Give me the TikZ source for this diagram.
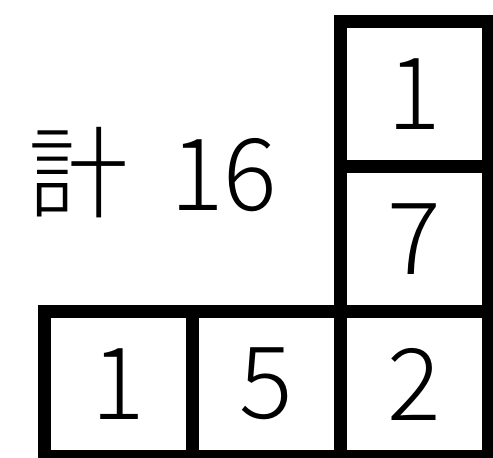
\documentclass[tikz,border=0pt]{standalone}
\usepackage{fontspec}
\setmainfont{Noto Sans CJK JP Light}
\usetikzlibrary{positioning}

\tikzset{
    cell/.style={draw, line width=13pt, minimum width=148pt, minimum height=145pt,
        inner sep=0pt, outer sep=0pt, font=\fontsize{100}{100}\selectfont},
}

\begin{document}
\begin{tikzpicture}[x=1pt, y=-1pt]
    \useasboundingbox (0,0) rectangle (493,458);

    % Corner cell, then the row and the column
    \node[cell] (two) at (414.5,384) {2};
    \node[cell, left=0pt of two] (five) {5};
    \node[cell, left=0pt of five] (oneb) {1};
    \node[cell, above=0pt of two] (seven) {7};
    \node[cell, above=0pt of seven] (onet) {1};

    % Total
    \node[font=\fontsize{100}{100}\selectfont] (total) at (153,173) {計\hspace{42pt}16};
\end{tikzpicture}
\end{document}
